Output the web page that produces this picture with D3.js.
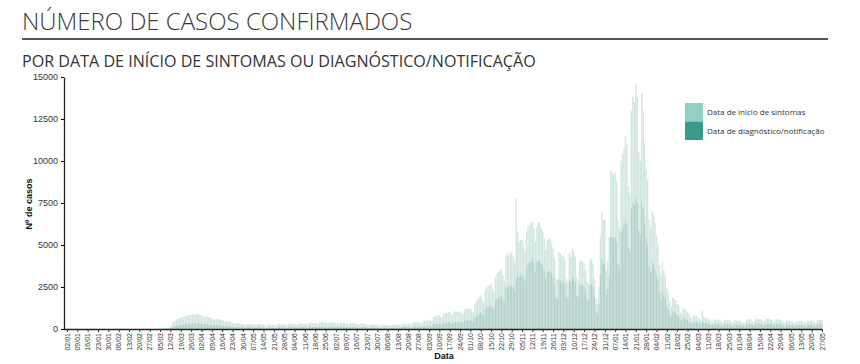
<!DOCTYPE html>
<html lang="pt">
<head>
  <meta charset="UTF-8" />
  <title>Número de casos confirmados</title>
  <script src="https://d3js.org/d3.v7.min.js"></script>
  <style>
    body { margin: 0; background: #fff; }
    .title { font-family: "Open Sans", sans-serif; font-weight: 300; font-size: 24px; fill: #3a3a3a; }
    .subtitle { font-family: "Open Sans", sans-serif; font-size: 16.1px; fill: #333; }
    .axis text { font-family: Arial, "Liberation Sans", sans-serif; fill: #333; }
    .axis-label { font-family: Arial, "Liberation Sans", sans-serif; font-size: 9px; font-weight: bold; fill: #111; }
    .legend text { font-family: "Open Sans", sans-serif; font-size: 8px; fill: #333; }
  </style>
</head>
<body>
<svg width="860" height="364"></svg>
<script>
  // primeiro dia com dados (quinta-feira), um valor por dia
  const startDate = "2020-02-27";
  const domainStart = "2020-01-02", domainEnd = "2021-05-27";
  const yTicks = [0, 2500, 5000, 7500, 10000, 12500, 15000];
  const seriesNames = ["Data de início de sintomas", "Data de diagnóstico/notificação"];

  // casos por data de diagnóstico/notificação (parte escura, em baixo)
  const diagnostico = [
    0,0,0,1,1,1,2,
    3,6,8,12,18,24,36,
    60,100,160,190,210,240,260,
    270,290,280,300,330,320,340,
    340,360,340,350,370,350,340,
    330,310,280,300,300,280,270,
    260,240,220,250,240,230,220,
    210,190,170,190,180,170,160,
    150,140,120,140,140,130,120,
    120,100,90,120,120,110,110,
    110,100,90,120,120,110,100,
    100,90,80,110,110,100,100,
    100,90,80,120,120,110,110,
    110,100,90,130,120,120,120,
    120,100,100,140,130,130,120,
    130,110,100,150,150,140,140,
    150,130,120,170,160,160,160,
    160,140,120,170,160,160,150,
    150,130,120,160,150,150,140,
    140,120,110,150,140,140,130,
    130,110,100,140,130,120,120,
    110,90,80,120,110,110,100,
    100,80,80,110,100,100,100,
    100,80,70,100,100,100,100,
    110,90,80,120,120,120,120,
    130,120,100,150,160,150,160,
    170,150,130,200,200,200,210,
    240,210,190,290,310,320,330,
    340,300,270,370,390,400,400,
    420,370,340,420,440,430,430,
    450,400,370,500,520,530,510,
    560,480,440,700,780,860,940,
    1000,900,800,1200,1300,1400,1350,
    1450,1300,1200,1700,1800,1850,1900,
    2000,1800,1600,2400,2600,2500,2600,
    2600,2500,2300,3000,3500,3100,3200,
    3300,3100,2900,3700,3900,4000,4000,
    4300,4000,3400,4000,4100,4100,3900,
    3800,3500,3000,3400,3500,3400,3300,
    3100,2700,1900,1800,3000,2900,2800,
    2900,2700,1900,1800,2900,2800,3100,
    3000,2800,2000,1900,2600,2700,2600,
    2500,2300,1800,1700,2600,2700,2500,
    1900,1100,900,1500,3300,4200,3900,
    3900,2100,2400,3200,5500,5500,5400,
    5500,5200,3900,3600,5800,6000,6200,
    6500,6300,4900,4600,7200,7600,7400,
    7800,7500,5900,5600,7600,7200,6300,
    5400,5000,3700,3400,4000,3900,3600,
    3200,2900,2200,1800,2300,2000,1800,
    1400,1200,900,750,1100,1000,1000,
    850,800,560,500,700,680,620,
    560,500,390,360,460,440,430,
    390,360,280,480,390,360,350,
    340,310,250,240,320,310,300,
    310,290,240,220,310,300,290,
    300,280,220,210,300,290,280,
    280,250,210,200,230,310,320,
    330,310,250,230,340,330,320,
    330,310,250,240,340,330,330,
    320,300,240,230,330,320,310,
    300,280,220,210,290,280,270,
    270,250,200,190,260,250,250,
    270,250,210,190,280,270,270,
    280,260,210,200,300,290,290,
    300
  ];

  // casos por data de início de sintomas (parte clara, em cima)
  const sintomas = [
    0,0,1,1,1,2,3,
    5,9,12,18,27,36,54,
    90,150,240,290,310,360,380,
    410,430,420,460,490,480,510,
    520,540,500,530,550,530,520,
    490,470,420,460,440,420,410,
    400,360,340,370,360,350,340,
    310,290,250,290,270,260,240,
    230,200,180,220,200,190,180,
    170,160,140,180,180,170,160,
    170,150,130,180,170,160,160,
    160,140,120,170,160,160,150,
    160,140,130,180,170,170,160,
    170,150,140,190,190,180,170,
    180,160,140,200,200,190,190,
    190,170,160,230,220,220,210,
    230,200,180,250,250,240,230,
    230,200,190,250,240,230,230,
    220,190,170,240,230,220,220,
    210,180,160,230,220,210,200,
    190,170,150,200,190,180,170,
    160,140,130,180,170,160,160,
    150,130,110,160,160,150,140,
    140,120,110,160,160,150,150,
    160,140,120,180,190,180,190,
    200,170,160,220,230,230,240,
    250,220,200,280,300,300,310,
    340,310,280,410,450,460,470,
    480,440,390,530,550,560,580,
    590,530,480,600,620,620,610,
    600,550,510,650,680,690,670,
    690,620,560,800,870,940,960,
    1000,900,800,1100,1200,1200,1200,
    1250,1100,1000,1400,1500,1550,1600,
    1600,1400,1300,1900,1900,1900,2000,
    1900,1800,1700,4780,2300,2100,2100,
    2000,1900,1700,2100,2200,2200,2300,
    2100,2000,1800,2100,2230,2200,2100,
    2000,1900,1700,1900,1900,1950,1800,
    1700,1500,1100,1100,1600,1600,1500,
    1500,1400,1100,1000,1600,1500,1700,
    1600,1500,1100,1000,1400,1400,1400,
    1400,1200,1000,1000,1500,1500,1400,
    1100,700,600,1000,2200,2800,2600,
    2600,1400,1600,2300,3900,3850,3800,
    3800,3600,2600,2400,4200,4470,4600,
    4960,4700,3600,3400,5800,6250,6100,
    6750,6300,4600,4400,6450,5800,4780,
    4100,3880,2800,2600,3000,2900,2700,
    2400,2100,1600,1400,1700,1500,1300,
    1000,930,700,550,800,800,700,
    650,600,440,400,530,520,480,
    440,400,310,290,360,340,330,
    310,290,220,620,310,290,270,
    260,250,200,180,260,250,240,
    250,230,180,180,250,240,230,
    240,220,180,170,240,230,220,
    220,200,170,150,190,240,260,
    270,250,200,190,280,270,260,
    270,250,210,190,280,270,260,
    260,240,200,180,270,260,250,
    240,220,180,170,230,220,210,
    210,200,160,150,210,210,200,
    210,200,160,160,220,220,210,
    220,210,170,160,240,240,230,
    240
  ];

  const colors = { sintomas: "#94cfc4", diagnostico: "#3a998c" };
  const barColors = { sintomas: "#d1e6e1", diagnostico: "#b2d1ca" };

  const svg = d3.select("svg");
  const parse = d3.timeParse("%Y-%m-%d");

  // título e subtítulo
  svg.append("text").attr("class", "title").attr("x", 22).attr("y", 30)
    .text("NÚMERO DE CASOS CONFIRMADOS");
  svg.append("line").attr("x1", 22).attr("x2", 828).attr("y1", 39).attr("y2", 39)
    .attr("stroke", "#555").attr("stroke-width", 2);
  svg.append("text").attr("class", "subtitle").attr("x", 22).attr("y", 67)
    .text("POR DATA DE INÍCIO DE SINTOMAS OU DIAGNÓSTICO/NOTIFICAÇÃO");

  const x = d3.scaleTime()
    .domain([parse(domainStart), parse(domainEnd)])
    .range([67, 822]);
  const y = d3.scaleLinear()
    .domain([0, 15000])
    .range([329, 77]);

  const first = parse(startDate);
  const rows = diagnostico.map((d, i) => ({
    date: d3.timeDay.offset(first, i),
    diagnostico: d,
    sintomas: sintomas[i]
  }));

  const stacked = d3.stack().keys(["diagnostico", "sintomas"])(rows);
  const dayW = x(d3.timeDay.offset(first, 1)) - x(first);
  const bw = dayW * 0.92;

  svg.append("g").selectAll("g")
    .data(stacked)
    .join("g")
    .attr("fill", s => barColors[s.key])
    .selectAll("rect")
    .data(s => s)
    .join("rect")
    .attr("x", d => x(d.data.date) - bw / 2)
    .attr("y", d => y(d[1]))
    .attr("width", bw)
    .attr("height", d => y(d[0]) - y(d[1]));

  // eixos
  const weekTicks = d3.timeDay.range(parse(domainStart), d3.timeDay.offset(parse(domainEnd), 1), 7);
  const xAxis = svg.append("g")
    .attr("class", "axis")
    .attr("transform", "translate(0,329)")
    .call(d3.axisBottom(x).tickValues(weekTicks).tickFormat(d3.timeFormat("%d/%m")).tickSize(3).tickSizeOuter(0));
  xAxis.select(".domain").attr("d", "M64,0.5H822").attr("stroke", "#222").attr("stroke-width", 1.3);
  xAxis.selectAll(".tick line").attr("stroke", "#333");
  xAxis.selectAll("text")
    .attr("font-size", 7)
    .attr("fill", "#555")
    .attr("transform", "rotate(-90)")
    .attr("text-anchor", "end")
    .attr("x", -4)
    .attr("y", 0)
    .attr("dy", "0.32em");

  const yAxis = svg.append("g")
    .attr("class", "axis")
    .attr("transform", "translate(64,0)")
    .call(d3.axisLeft(y).tickValues(yTicks).tickFormat(d3.format("d")).tickSize(3).tickSizeOuter(0));
  yAxis.select(".domain").attr("stroke", "#222").attr("stroke-width", 1.3);
  yAxis.selectAll("text").attr("font-size", 9).attr("fill", "#333");

  svg.append("text").attr("class", "axis-label")
    .attr("transform", "translate(32,204) rotate(-90)")
    .attr("text-anchor", "middle")
    .text("Nº de casos");
  svg.append("text").attr("class", "axis-label")
    .attr("x", 444).attr("y", 359)
    .attr("text-anchor", "middle")
    .text("Data");

  // legenda
  const legend = svg.append("g").attr("class", "legend").attr("transform", "translate(685,103)");
  [colors.sintomas, colors.diagnostico].forEach((c, i) => {
    legend.append("rect").attr("x", 0).attr("y", i * 18.5).attr("width", 18).attr("height", 18.5).attr("fill", c);
    legend.append("text").attr("x", 22).attr("y", i * 18.5 + 12).text(seriesNames[i]);
  });
</script>
</body>
</html>
